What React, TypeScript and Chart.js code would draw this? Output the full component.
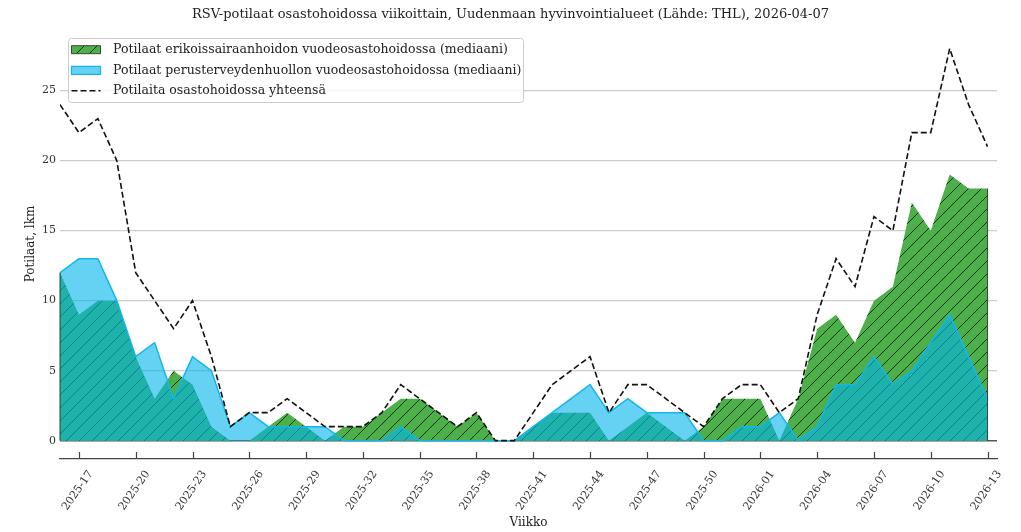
import { useEffect, useRef } from "react";
import { Chart, registerables } from "chart.js";

Chart.register(...registerables);

const TITLE =
  "RSV-potilaat osastohoidossa viikoittain, Uudenmaan hyvinvointialueet (Lähde: THL), 2026-04-07";
const X_TITLE = "Viikko";
const Y_TITLE = "Potilaat, lkm";

const weeks = [
  "2025-16", "2025-17", "2025-18", "2025-19", "2025-20", "2025-21", "2025-22", "2025-23",
  "2025-24", "2025-25", "2025-26", "2025-27", "2025-28", "2025-29", "2025-30", "2025-31",
  "2025-32", "2025-33", "2025-34", "2025-35", "2025-36", "2025-37", "2025-38", "2025-39",
  "2025-40", "2025-41", "2025-42", "2025-43", "2025-44", "2025-45", "2025-46", "2025-47",
  "2025-48", "2025-49", "2025-50", "2025-51", "2025-52", "2026-01", "2026-02", "2026-03",
  "2026-04", "2026-05", "2026-06", "2026-07", "2026-08", "2026-09", "2026-10", "2026-11",
  "2026-12", "2026-13",
];

const specialistCare = [
  12, 9, 10, 10, 6, 3, 5, 4, 1, 0,
  0, 1, 2, 1, 0, 1, 1, 2, 3, 3,
  2, 1, 2, 0, 0, 1, 2, 2, 2, 0,
  1, 2, 1, 0, 1, 3, 3, 3, 0, 3,
  8, 9, 7, 10, 11, 17, 15, 19, 18, 18,
];

const primaryCare = [
  12, 13, 13, 10, 6, 7, 3, 6, 5, 1,
  2, 1, 1, 1, 1, 0, 0, 0, 1, 0,
  0, 0, 0, 0, 0, 1, 2, 3, 4, 2,
  3, 2, 2, 2, 0, 0, 1, 1, 2, 0,
  1, 4, 4, 6, 4, 5, 7, 9, 6, 3,
];

const totalPatients = [
  24, 22, 23, 20, 12, 10, 8, 10, 6, 1,
  2, 2, 3, 2, 1, 1, 1, 2, 4, 3,
  2, 1, 2, 0, 0, 2, 4, 5, 6, 2,
  4, 4, 3, 2, 1, 3, 4, 4, 2, 3,
  9, 13, 11, 16, 15, 22, 22, 28, 24, 21,
];

const xTickIndices = [1, 4, 7, 10, 13, 16, 19, 22, 25, 28, 31, 34, 37, 40, 43, 46, 49];
const yTickValues = [0, 5, 10, 15, 20, 25];

const legendLabels = [
  "Potilaat erikoissairaanhoidon vuodeosastohoidossa (mediaani)",
  "Potilaat perusterveydenhuollon vuodeosastohoidossa (mediaani)",
  "Potilaita osastohoidossa yhteensä",
];

const FONT = '"DejaVu Serif", "Liberation Serif", serif';
const GREEN = "#4daf4a";
const BLUE_FILL = "rgba(0,180,235,0.6)";
const BLUE_EDGE = "rgb(18,182,235)";
const HATCH_LINE = "rgba(10,30,10,0.85)";

function makeHatch(bg: string, line: string, size: number): CanvasPattern | string {
  const c = document.createElement("canvas");
  c.width = size;
  c.height = size;
  const g = c.getContext("2d");
  if (!g) return bg;
  g.fillStyle = bg;
  g.fillRect(0, 0, size, size);
  g.strokeStyle = line;
  g.lineWidth = 1;
  g.beginPath();
  g.moveTo(0, size);
  g.lineTo(size, 0);
  g.moveTo(-2, 2);
  g.lineTo(2, -2);
  g.moveTo(size - 2, size + 2);
  g.lineTo(size + 2, size - 2);
  g.stroke();
  const p = g.createPattern(c, "repeat");
  return p || bg;
}

const toXY = (arr: number[]) => arr.map((v, i) => ({ x: i, y: v }));

export default function App() {
  const ref = useRef<HTMLCanvasElement>(null);

  useEffect(() => {
    document.body.style.margin = "0";
    const canvas = ref.current;
    if (!canvas) return;
    const ctx = canvas.getContext("2d");
    if (!ctx) return;
    const hatch = makeHatch(GREEN, HATCH_LINE, 13);

    const innerTicks = {
      id: "innerTicks",
      afterDraw(chart: any) {
        const xs = chart.scales.x;
        const bottom = chart.chartArea.bottom;
        const c = chart.ctx;
        c.save();
        c.strokeStyle = "#444";
        c.lineWidth = 1.2;
        xs.ticks.forEach((t: any) => {
          const px = Math.round(xs.getPixelForValue(t.value)) + 0.5;
          c.beginPath();
          c.moveTo(px, bottom);
          c.lineTo(px, bottom - 7);
          c.stroke();
        });
        c.restore();
      },
    };

    const greenEdges = {
      id: "greenEdges",
      afterDatasetsDraw(chart: any) {
        const meta = chart.getDatasetMeta(0);
        const pts = meta.data;
        if (!pts.length) return;
        const base = chart.scales.y.getPixelForValue(0);
        const c = chart.ctx;
        c.save();
        c.strokeStyle = "rgba(40,50,40,0.9)";
        c.lineWidth = 1;
        [pts[0], pts[pts.length - 1]].forEach((p: any) => {
          c.beginPath();
          c.moveTo(p.x, p.y);
          c.lineTo(p.x, base);
          c.stroke();
        });
        c.restore();
      },
    };

    const boxLegend = {
      id: "boxLegend",
      afterDraw(chart: any) {
        const c = chart.ctx;
        c.save();
        const x0 = 68.5, y0 = 38.5, w = 455, h = 64;
        c.beginPath();
        c.roundRect(x0, y0, w, h, 3);
        c.fillStyle = "rgba(255,255,255,0.85)";
        c.fill();
        c.strokeStyle = "#cccccc";
        c.lineWidth = 1;
        c.stroke();

        const rows = [49.7, 70.3, 90.8];
        const px = 71.5, pw = 29, ph = 8;
        c.beginPath();
        c.rect(px, rows[0] - ph / 2, pw, ph);
        c.fillStyle = hatch as any;
        c.fill();
        c.strokeStyle = "#333";
        c.lineWidth = 0.9;
        c.stroke();
        c.beginPath();
        c.rect(px, rows[1] - ph / 2, pw, ph);
        c.fillStyle = BLUE_FILL;
        c.fill();
        c.strokeStyle = BLUE_EDGE;
        c.lineWidth = 1.2;
        c.stroke();
        c.beginPath();
        c.setLineDash([6, 3]);
        c.moveTo(px, rows[2]);
        c.lineTo(px + pw, rows[2]);
        c.strokeStyle = "#111";
        c.lineWidth = 1.6;
        c.stroke();
        c.setLineDash([]);

        c.fillStyle = "#222";
        c.font = `12.5px ${FONT}`;
        c.textBaseline = "middle";
        c.textAlign = "left";
        legendLabels.forEach((t, i) => c.fillText(t, 113, rows[i]));
        c.restore();
      },
    };

    const chart = new Chart(ctx, {
      type: "line",
      data: {
        datasets: [
          {
            label: legendLabels[0],
            data: toXY(specialistCare),
            backgroundColor: hatch as any,
            borderColor: "rgba(0,0,0,0)",
            borderWidth: 0,
            fill: "origin",
            pointRadius: 0,
            tension: 0,
            order: 3,
          },
          {
            label: legendLabels[1],
            data: toXY(primaryCare),
            backgroundColor: BLUE_FILL,
            borderColor: BLUE_EDGE,
            borderWidth: 1.5,
            fill: "origin",
            pointRadius: 0,
            tension: 0,
            order: 2,
          },
          {
            label: legendLabels[2],
            data: toXY(totalPatients),
            borderColor: "#111",
            borderWidth: 1.6,
            borderDash: [6, 3],
            fill: false,
            pointRadius: 0,
            tension: 0,
            order: 1,
          },
        ],
      },
      options: {
        animation: false,
        responsive: true,
        maintainAspectRatio: false,
        layout: { padding: 0 },
        plugins: {
          legend: { display: false },
          tooltip: { enabled: false },
          title: {
            display: true,
            text: TITLE,
            color: "#222",
            font: { family: FONT, size: 13, weight: "normal", lineHeight: 1.2 },
            padding: { top: 7, bottom: 6.4 },
          },
        },
        scales: {
          x: {
            type: "linear",
            min: 0,
            max: 49.5,
            afterBuildTicks: (scale: any) => {
              scale.ticks = xTickIndices.map((v) => ({ value: v }));
            },
            afterFit: (scale: any) => {
              scale.height = 73;
            },
            ticks: {
              autoSkip: false,
              minRotation: 55,
              maxRotation: 55,
              padding: 9,
              labelOffset: 12,
              color: "#333",
              font: { family: FONT, size: 11 },
              callback: (v: any) => weeks[Number(v)] ?? "",
            },
            grid: { display: true, drawOnChartArea: false, drawTicks: false },
            border: { display: true, color: "#444", width: 1.2 },
            title: {
              display: true,
              text: X_TITLE,
              color: "#222",
              font: { family: FONT, size: 12 },
              padding: { top: 0, bottom: 2 },
            },
          },
          y: {
            type: "linear",
            min: -1.31,
            max: 29.4,
            z: 1,
            afterBuildTicks: (scale: any) => {
              scale.ticks = yTickValues.map((v) => ({ value: v }));
            },
            afterFit: (scale: any) => {
              scale.width = 60;
            },
            ticks: {
              padding: 4,
              color: "#333",
              font: { family: FONT, size: 11 },
            },
            grid: {
              drawTicks: false,
              color: (c: any) => (c.tick && c.tick.value === 0 ? "#555" : "#cccccc"),
              lineWidth: (c: any) => (c.tick && c.tick.value === 0 ? 1.4 : 1.2),
            },
            border: { display: false },
            title: {
              display: true,
              text: Y_TITLE,
              color: "#222",
              font: { family: FONT, size: 12 },
              padding: { top: 24, bottom: 0 },
            },
          },
          yRight: {
            type: "linear",
            position: "right",
            min: 0,
            max: 1,
            display: true,
            afterFit: (scale: any) => {
              scale.width = 24;
            },
            ticks: { display: false },
            grid: { display: false, drawOnChartArea: false, drawTicks: false },
            border: { display: false },
          },
        },
      },
      plugins: [greenEdges, innerTicks, boxLegend],
    });

    return () => chart.destroy();
  }, []);

  return (
    <div style={{ width: 1021, height: 532, position: "relative" }}>
      <canvas ref={ref} />
    </div>
  );
}
